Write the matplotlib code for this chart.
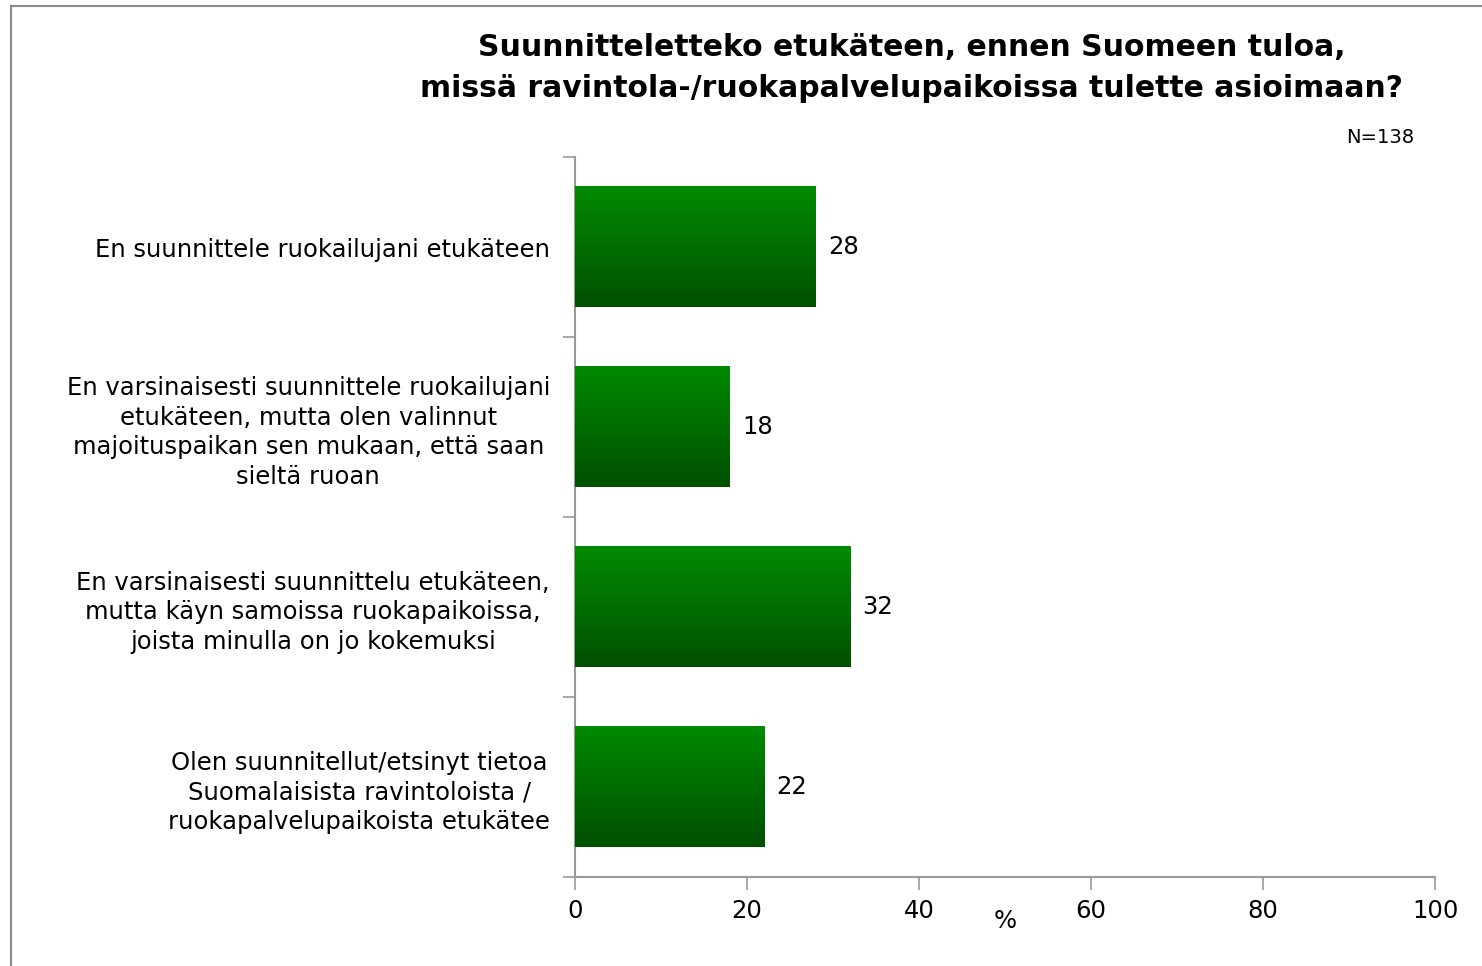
import matplotlib
matplotlib.use("Agg")
import matplotlib.pyplot as plt
import numpy as np
from matplotlib.patches import Rectangle
from matplotlib.colors import LinearSegmentedColormap

plt.rcParams['font.family'] = ['DejaVu Sans']

categories = [
    "En suunnittele ruokailujani etukäteen",
    "En varsinaisesti suunnittele ruokailujani\netukäteen, mutta olen valinnut\nmajoituspaikan sen mukaan, että saan\nsieltä ruoan",
    "En varsinaisesti suunnittelu etukäteen,\nmutta käyn samoissa ruokapaikoissa,\njoista minulla on jo kokemuksi",
    "Olen suunnitellut/etsinyt tietoa\nSuomalaisista ravintoloista /\nruokapalvelupaikoista etukätee",
]
values = [28, 18, 32, 22]
xticks = [0, 20, 40, 60, 80, 100]
title = "Suunnitteletteko etukäteen, ennen Suomeen tuloa,\nmissä ravintola-/ruokapalvelupaikoissa tulette asioimaan?"
n_text = "N=138"

W, H = 1482, 966
fig = plt.figure(figsize=(W / 100, H / 100), dpi=100)
ax = fig.add_axes([575 / W, 1 - 877 / H, 860 / W, 720 / H])

# outer border
fig.patches.append(Rectangle((11 / W, -0.1), 1.2, 1 - 6 / H + 0.1, transform=fig.transFigure,
                             fill=False, edgecolor='#8a8a8a', linewidth=1.5))

pos = np.arange(len(categories))
bars = ax.barh(pos, values, height=0.667, color='#006f00', zorder=2)

cmap = LinearSegmentedColormap.from_list('g', ['#008a00', '#005000'])
grad = np.linspace(0, 1, 256).reshape(-1, 1)
for b in bars:
    x0, y0 = b.get_x(), b.get_y()
    w, h = b.get_width(), b.get_height()
    ax.imshow(grad, cmap=cmap, aspect='auto', extent=(x0, x0 + w, y0 + h, y0),
              zorder=3, interpolation='bilinear')
    ax.text(x0 + w + 1.4, y0 + h / 2, f"{w:g}", va='center', ha='left', fontsize=17.5, color='black')

ax.set_xlim(0, 100)
ax.set_ylim(len(categories) - 0.5, -0.5)
ax.set_xticks(xticks)
ax.set_xticklabels([str(t) for t in xticks], fontsize=17.5)
ax.set_yticks(pos)
ax.set_yticklabels(categories, fontsize=17.5, multialignment='center', linespacing=1.3)
ax.set_yticks(np.arange(len(categories) + 1) - 0.5, minor=True)
ax.tick_params(axis='y', which='major', length=0, pad=18)
ax.tick_params(axis='y', which='minor', length=9, color='#999999', width=1.2)
ax.tick_params(axis='x', length=9, color='#999999', width=1.2, pad=7)

for s in ['top', 'right']:
    ax.spines[s].set_visible(False)
for s in ['left', 'bottom']:
    ax.spines[s].set_color('#999999')
    ax.spines[s].set_linewidth(1.5)

ax.set_xlabel('%', fontsize=17.5)
ax.xaxis.set_label_coords(0.5, -0.045)

fig.text(912 / W, 1 - 68 / H, title, ha='center', va='center', fontsize=21.5,
         fontweight='bold', linespacing=1.5)
fig.text(1414 / W, 1 - 138 / H, n_text, ha='right', va='center', fontsize=14)

fig.savefig('out.png', dpi=100)
